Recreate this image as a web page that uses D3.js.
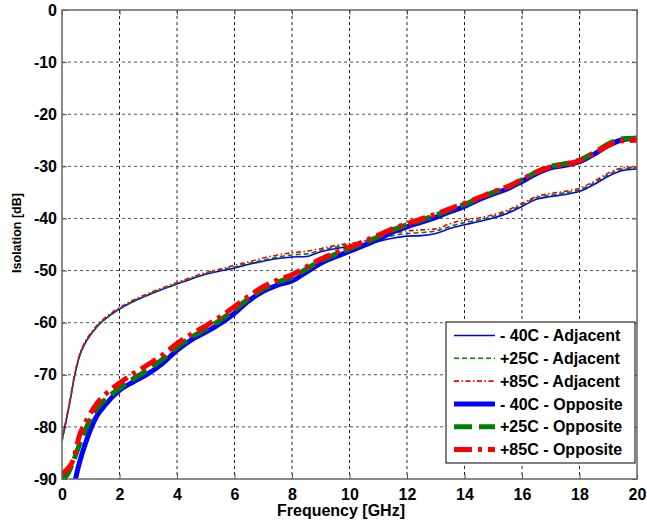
<!DOCTYPE html>
<html>
<head>
<meta charset="utf-8">
<script src="https://cdn.jsdelivr.net/npm/d3@7"></script>
<style>
  html, body { margin: 0; padding: 0; background: #fff; }
  svg { display: block; font-family: "Liberation Sans", Arial, sans-serif; }
</style>
</head>
<body>
<div id="chart"></div>
<script>
// data (frequency in GHz, isolation in dB)

const xTicks = [0, 2, 4, 6, 8, 10, 12, 14, 16, 18, 20];
const yTicks = [0, -10, -20, -30, -40, -50, -60, -70, -80, -90];

const adjFreq = [0, 0.1, 0.2, 0.3, 0.4, 0.6, 0.8, 1.0, 1.3, 1.6, 2.0, 2.5, 3.0, 3.5, 4.0, 4.5,
  5.0, 5.5, 6.0, 6.5, 7.0, 7.5, 8.0, 8.5, 9.0, 9.5, 10.0, 10.5, 11.0, 11.5, 12.0, 12.5,
  13.0, 13.5, 14.0, 14.5, 15.0, 15.5, 16.0, 16.5, 17.0, 17.5, 18.0, 18.5, 19.0, 19.5, 20.0];

const adjM40 = [-82.5, -80.0, -77.3, -74.5, -71.3, -66.6, -64.0, -62.3, -60.3, -58.9, -57.4, -55.9,
  -54.7, -53.6, -52.6, -51.6, -50.7, -50.1, -49.5, -48.8, -48.2, -47.7, -47.4, -47.3, -46.4, -45.8,
  -45.4, -45.0, -44.4, -43.8, -43.4, -43.3, -42.9, -41.9, -41.2, -40.6, -39.9, -39.0, -37.7, -36.3,
  -35.8, -35.4, -34.8, -33.5, -31.9, -30.8, -30.5];

const adjP25 = [-82.8, -80.2, -77.2, -74.3, -71.2, -66.5, -63.9, -62.2, -60.2, -58.8, -57.3, -55.8,
  -54.6, -53.5, -52.5, -51.5, -50.6, -49.9, -49.3, -48.6, -48.0, -47.4, -47.0, -46.8, -46.1, -45.5,
  -45.1, -44.7, -44.0, -43.3, -42.9, -42.7, -42.4, -41.5, -40.8, -40.3, -39.6, -38.7, -37.4, -36.0,
  -35.5, -35.1, -34.5, -33.2, -31.6, -30.5, -30.3];

const adjP85 = [-82.0, -79.8, -77.0, -74.1, -71.0, -66.3, -63.7, -62.0, -60.0, -58.6, -57.1, -55.6,
  -54.4, -53.3, -52.3, -51.3, -50.4, -49.7, -49.0, -48.3, -47.6, -47.0, -46.6, -46.3, -45.8, -45.2,
  -44.8, -44.4, -43.6, -42.9, -42.4, -42.2, -42.0, -41.0, -40.3, -39.9, -39.3, -38.4, -37.1, -35.8,
  -35.2, -34.8, -34.2, -32.9, -31.3, -30.3, -30.1];

const oppFreq = [0, 0.2, 0.4, 0.6, 0.9, 1.2, 1.5, 2.0, 2.5, 3.0, 3.5, 4.0, 4.5, 5.0, 5.5, 6.0,
  6.5, 7.0, 7.5, 8.0, 8.5, 9.0, 9.5, 10.0, 10.5, 11.0, 11.5, 12.0, 12.5, 13.0, 13.5, 14.0,
  14.5, 15.0, 15.5, 16.0, 16.5, 17.0, 17.5, 18.0, 18.5, 19.0, 19.5, 20.0];

const oppM40 = [-97.0, -95.0, -91.5, -87.0, -81.8, -78.0, -75.8, -73.0, -71.3, -69.8, -67.8, -65.3,
  -63.3, -61.8, -60.2, -58.2, -55.8, -54.0, -52.8, -52.0, -50.3, -48.6, -47.4, -46.3, -45.2, -44.0,
  -42.6, -41.6, -40.7, -39.8, -38.7, -37.7, -36.4, -35.3, -34.3, -32.9, -31.4, -30.3, -29.8, -29.1,
  -27.7, -26.0, -24.9, -24.6];

const oppP25 = [-90.2, -89.0, -86.5, -83.5, -79.5, -76.6, -74.8, -72.6, -70.7, -69.0, -67.0, -64.7,
  -62.8, -61.2, -59.5, -57.5, -55.3, -53.5, -52.2, -51.3, -49.7, -48.1, -46.9, -45.8, -44.7, -43.5,
  -42.2, -41.2, -40.3, -39.4, -38.3, -37.3, -36.1, -35.0, -34.0, -32.6, -31.1, -30.0, -29.5, -28.8,
  -27.4, -25.7, -24.7, -24.6];

const oppP85 = [-89.0, -88.0, -86.2, -81.8, -78.3, -75.6, -73.8, -71.6, -69.7, -68.0, -66.2, -64.0,
  -62.2, -60.6, -58.9, -56.9, -54.9, -53.1, -51.8, -50.8, -49.3, -47.8, -46.6, -45.5, -44.4, -43.2,
  -42.0, -41.0, -40.1, -39.2, -38.1, -37.1, -36.0, -34.9, -33.9, -32.5, -31.1, -30.1, -29.6, -28.9,
  -27.6, -26.0, -25.1, -25.0];

const seriesNames = ['- 40C - Adjacent', '+25C - Adjacent', '+85C - Adjacent',
  '- 40C - Opposite', '+25C - Opposite', '+85C - Opposite'];

// styles per series, same order as names
const seriesStyles = [
  { color: '#0000ff', width: 1.6, dash: null },
  { color: '#008000', width: 1.6, dash: '5,3' },
  { color: '#ff0000', width: 1.6, dash: '5,2.5,1.5,2.5' },
  { color: '#0000ff', width: 5, dash: null },
  { color: '#008000', width: 5, dash: '18,7' },
  { color: '#ff0000', width: 5, dash: '18,6,4,6' }
];

function buildSeries() {
  const pairs = (fs, vs) => fs.map((f, i) => [f, vs[i]]);
  return [
    pairs(adjFreq, adjM40),
    pairs(adjFreq, adjP25),
    pairs(adjFreq, adjP85),
    pairs(oppFreq, oppM40),
    pairs(oppFreq, oppP25),
    pairs(oppFreq, oppP85)
  ];
}

function render() {
  const W = 647, H = 527;
  const m = { left: 62, top: 10, right: 10, bottom: 48 };
  const pw = W - m.left - m.right;   // 575
  const ph = H - m.top - m.bottom;   // 469

  const svg = d3.select('#chart').append('svg')
    .attr('width', W)
    .attr('height', H);

  const x = d3.scaleLinear().domain([0, 20]).range([0, pw]);
  const y = d3.scaleLinear().domain([-90, 0]).range([ph, 0]);

  const g = svg.append('g').attr('transform', `translate(${m.left},${m.top})`);

  svg.append('defs').append('clipPath').attr('id', 'plot-clip')
    .append('rect').attr('width', pw).attr('height', ph);

  // grid
  g.append('g').selectAll('line')
    .data(xTicks.slice(1, -1))
    .enter().append('line')
    .attr('x1', d => x(d)).attr('x2', d => x(d))
    .attr('y1', 0).attr('y2', ph)
    .attr('stroke', '#222').attr('stroke-width', 1)
    .attr('stroke-dasharray', '3,3');

  g.append('g').selectAll('line')
    .data(yTicks.slice(1, -1))
    .enter().append('line')
    .attr('y1', d => y(d)).attr('y2', d => y(d))
    .attr('x1', 0).attr('x2', pw)
    .attr('stroke', '#555').attr('stroke-width', 1)
    .attr('stroke-dasharray', '3,3');

  // axes, ticks point inward; plain hyphen for negatives like the reference
  const fmt = d => String(d);
  const axisFont = sel => {
    sel.select('.domain').remove();
    sel.selectAll('.tick line').attr('stroke', '#555');
    sel.selectAll('.tick text')
      .attr('fill', '#000')
      .attr('font-size', 16)
      .attr('font-weight', 'bold')
      .attr('font-family', '"Liberation Sans", Arial, sans-serif');
  };

  g.append('g')
    .attr('transform', `translate(0,${ph})`)
    .call(d3.axisBottom(x).tickValues(xTicks).tickFormat(fmt).tickSizeInner(-5).tickSizeOuter(0).tickPadding(10))
    .call(axisFont);

  g.append('g')
    .call(d3.axisLeft(y).tickValues(yTicks).tickFormat(fmt).tickSizeInner(-5).tickSizeOuter(0).tickPadding(5))
    .call(axisFont);

  g.append('g')
    .call(d3.axisTop(x).tickValues(xTicks).tickSizeInner(-5).tickSizeOuter(0).tickFormat(''))
    .call(axisFont);

  g.append('g')
    .attr('transform', `translate(${pw},0)`)
    .call(d3.axisRight(y).tickValues(yTicks).tickSizeInner(-5).tickSizeOuter(0).tickFormat(''))
    .call(axisFont);

  // curves
  const line = d3.line()
    .x(d => x(d[0]))
    .y(d => y(d[1]))
    .curve(d3.curveMonotoneX);

  const series = buildSeries();
  const plot = g.append('g').attr('clip-path', 'url(#plot-clip)');

  series.forEach((pts, i) => {
    const s = seriesStyles[i];
    plot.append('path')
      .datum(pts)
      .attr('d', line)
      .attr('fill', 'none')
      .attr('stroke', s.color)
      .attr('stroke-width', s.width)
      .attr('stroke-dasharray', s.dash);
  });

  // frame
  g.append('rect')
    .attr('width', pw).attr('height', ph)
    .attr('fill', 'none')
    .attr('stroke', '#666')
    .attr('stroke-width', 1.5);

  // axis titles
  svg.append('text')
    .attr('x', 341).attr('y', 516)
    .attr('text-anchor', 'middle')
    .attr('font-size', 16)
    .attr('font-weight', 'bold')
    .text('Frequency [GHz]');

  svg.append('text')
    .attr('transform', 'translate(21,233) rotate(-90)')
    .attr('text-anchor', 'middle')
    .attr('font-size', 12.5)
    .attr('font-weight', 'bold')
    .text('Isolation [dB]');

  // legend
  const lg = svg.append('g').attr('transform', 'translate(446,322)');
  lg.append('rect')
    .attr('width', 189).attr('height', 141)
    .attr('fill', '#fff')
    .attr('stroke', '#000')
    .attr('stroke-width', 1);

  const rowY = d3.scaleLinear().domain([0, 5]).range([13.5, 127.5]);

  seriesNames.forEach((name, i) => {
    const s = seriesStyles[i];
    lg.append('line')
      .attr('x1', 8).attr('x2', 49)
      .attr('y1', rowY(i)).attr('y2', rowY(i))
      .attr('stroke', s.color)
      .attr('stroke-width', s.width === 5 ? 5 : 1.6)
      .attr('stroke-dasharray', s.dash);
    lg.append('text')
      .attr('x', 54).attr('y', rowY(i))
      .attr('dy', '0.36em')
      .attr('font-size', 16)
      .attr('font-weight', 'bold')
      .text(name);
  });
}

document.addEventListener('DOMContentLoaded', render);
</script>
</body>
</html>
